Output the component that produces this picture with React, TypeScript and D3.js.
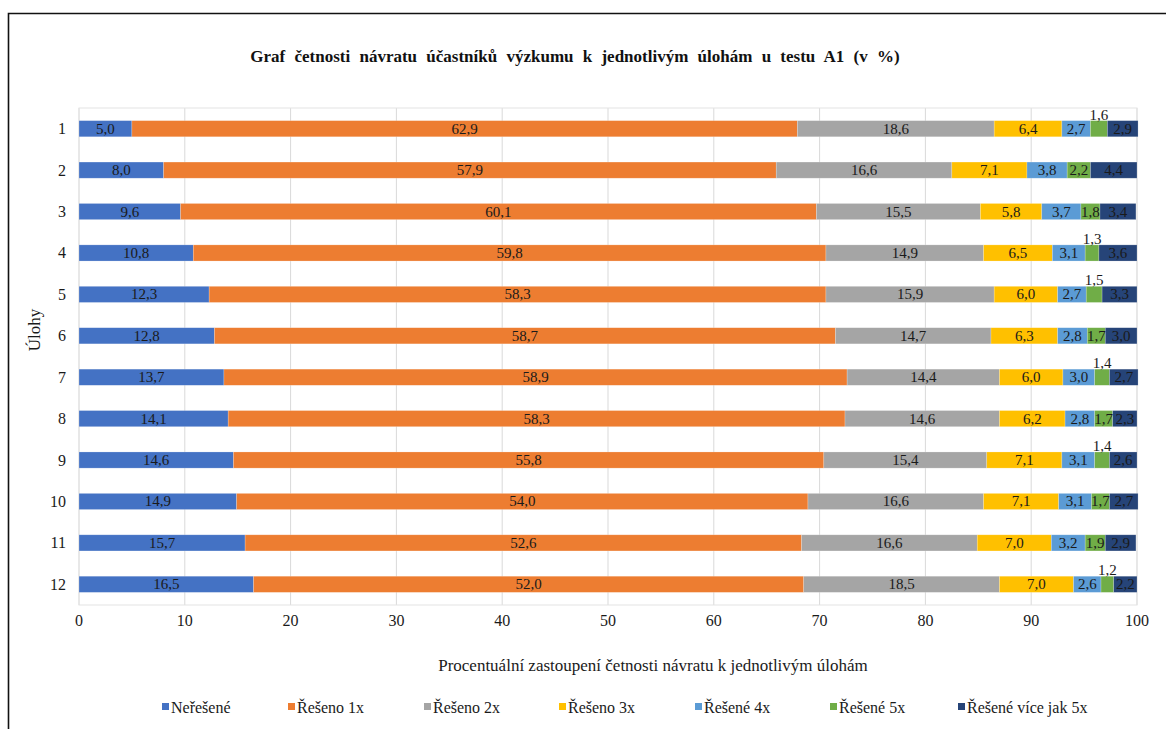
import React from "react";
import * as d3 from "d3";

// Task numbers (rows)
const tasks: string[] = ["1", "2", "3", "4", "5", "6", "7", "8", "9", "10", "11", "12"];

// Series names
const seriesNames: string[] = [
  "Neřešené",
  "Řešeno 1x",
  "Řešeno 2x",
  "Řešeno 3x",
  "Řešené 4x",
  "Řešené 5x",
  "Řešené více jak 5x",
];

// Percentages per series, one value per task
const unsolved: number[] = [5.0, 8.0, 9.6, 10.8, 12.3, 12.8, 13.7, 14.1, 14.6, 14.9, 15.7, 16.5];
const solved1x: number[] = [62.9, 57.9, 60.1, 59.8, 58.3, 58.7, 58.9, 58.3, 55.8, 54.0, 52.6, 52.0];
const solved2x: number[] = [18.6, 16.6, 15.5, 14.9, 15.9, 14.7, 14.4, 14.6, 15.4, 16.6, 16.6, 18.5];
const solved3x: number[] = [6.4, 7.1, 5.8, 6.5, 6.0, 6.3, 6.0, 6.2, 7.1, 7.1, 7.0, 7.0];
const solved4x: number[] = [2.7, 3.8, 3.7, 3.1, 2.7, 2.8, 3.0, 2.8, 3.1, 3.1, 3.2, 2.6];
const solved5x: number[] = [1.6, 2.2, 1.8, 1.3, 1.5, 1.7, 1.4, 1.7, 1.4, 1.7, 1.9, 1.2];
const solvedMore: number[] = [2.9, 4.4, 3.4, 3.6, 3.3, 3.0, 2.7, 2.3, 2.6, 2.7, 2.9, 2.2];

// X axis ticks
const xTicks: number[] = [0, 10, 20, 30, 40, 50, 60, 70, 80, 90, 100];

const colors: string[] = ["#4472C4", "#ED7D31", "#A5A5A5", "#FFC000", "#5B9BD5", "#70AD47", "#264478"];

const seriesValues: number[][] = [unsolved, solved1x, solved2x, solved3x, solved4x, solved5x, solvedMore];

const title = "Graf četnosti návratu účastníků výzkumu k jednotlivým úlohám u testu A1 (v %)";
const xTitle = "Procentuální zastoupení četnosti návratu k jednotlivým úlohám";
const yTitle = "Úlohy";

const W = 1166;
const H = 729;
const FONT = "'Liberation Serif', 'Times New Roman', serif";

// Legend marker positions along the bottom row
const legendX: number[] = [166, 292, 428, 563, 699, 834, 962];

const fmt = (v: number) => d3.format(".1f")(v).replace(".", ",");

export default function App() {
  const plot = { left: 79, right: 1137, top: 108, bottom: 605 };

  const x = d3.scaleLinear().domain([0, 100]).range([plot.left, plot.right]);
  const y = d3
    .scaleBand<string>()
    .domain(tasks)
    .range([plot.top, plot.bottom])
    .paddingInner(0.61)
    .paddingOuter(0.305);

  const rows = tasks.map((t, i) => {
    const obj: Record<string, number | string> = { task: t };
    seriesNames.forEach((s, j) => {
      obj[s] = seriesValues[j][i];
    });
    return obj;
  });

  const stack = d3.stack<Record<string, number | string>>().keys(seriesNames).value((d, k) => d[k] as number);
  const stacked = stack(rows);

  const bh = y.bandwidth();

  return (
    <svg
      width={W}
      height={H}
      style={{ position: "absolute", left: 0, top: 0, background: "#fff", fontFamily: FONT }}
    >
      <rect x={0} y={0} width={W} height={H} fill="#fff" />
      {/* chart frame */}
      <path d={`M8.5,${H + 5} V13.5 H${W + 5}`} fill="none" stroke="#111" strokeWidth={1.6} />

      <text
        x={575}
        y={62}
        textAnchor="middle"
        style={{ fontFamily: FONT, fontSize: 17, fontWeight: "bold", wordSpacing: 5 }}
        fill="#111"
      >
        {title}
      </text>

      {/* gridlines */}
      {xTicks.map((t) => (
        <line key={t} x1={x(t)} x2={x(t)} y1={plot.top} y2={plot.bottom} stroke="#d9d9d9" strokeWidth={1} />
      ))}
      <rect
        x={plot.left}
        y={plot.top}
        width={plot.right - plot.left}
        height={plot.bottom - plot.top}
        fill="none"
        stroke="#e3e3e3"
        strokeWidth={1}
      />

      {/* bars */}
      {stacked.map((layer, si) => (
        <g key={layer.key}>
          {layer.map((d, ri) => {
            const x0 = x(d[0]);
            const x1 = x(d[1]);
            const yy = y(tasks[ri]) as number;
            return (
              <rect
                key={ri}
                x={x0}
                y={yy}
                width={Math.max(0, x1 - x0)}
                height={bh}
                fill={colors[si]}
                stroke="#ffffff"
                strokeOpacity={0.35}
                strokeWidth={0.6}
              />
            );
          })}
        </g>
      ))}

      {/* value labels */}
      {stacked.map((layer, si) => (
        <g key={layer.key + "-lbl"}>
          {layer.map((d, ri) => {
            const v = seriesValues[si][ri];
            const cx = (x(d[0]) + x(d[1])) / 2;
            const yy = y(tasks[ri]) as number;
            const above = x(d[1]) - x(d[0]) < 17.5;
            return (
              <text
                key={ri}
                x={cx}
                y={above ? yy - 1 : yy + bh / 2 + 5}
                textAnchor="middle"
                style={{ fontFamily: FONT, fontSize: 15 }}
                fill="#1a1a1a"
              >
                {fmt(v)}
              </text>
            );
          })}
        </g>
      ))}

      {/* category labels */}
      {tasks.map((t) => (
        <text
          key={t}
          x={66}
          y={(y(t) as number) + bh / 2 + 5.5}
          textAnchor="end"
          style={{ fontFamily: FONT, fontSize: 16 }}
          fill="#1a1a1a"
        >
          {t}
        </text>
      ))}

      {/* x tick labels */}
      {xTicks.map((t) => (
        <text
          key={t}
          x={x(t)}
          y={626}
          textAnchor="middle"
          style={{ fontFamily: FONT, fontSize: 16 }}
          fill="#1a1a1a"
        >
          {t}
        </text>
      ))}

      <text x={653} y={671} textAnchor="middle" style={{ fontFamily: FONT, fontSize: 17 }} fill="#1a1a1a">
        {xTitle}
      </text>

      <text
        transform={`translate(40, ${330}) rotate(-90)`}
        textAnchor="middle"
        style={{ fontFamily: FONT, fontSize: 17 }}
        fill="#1a1a1a"
      >
        {yTitle}
      </text>

      {/* legend */}
      {seriesNames.map((s, i) => (
        <g key={s} transform={`translate(${legendX[i]}, 707)`}>
          <rect x={-4} y={-4} width={7} height={7} fill={colors[i]} />
          <text x={5} y={5.5} style={{ fontFamily: FONT, fontSize: 16 }} fill="#1a1a1a">
            {s}
          </text>
        </g>
      ))}
    </svg>
  );
}
